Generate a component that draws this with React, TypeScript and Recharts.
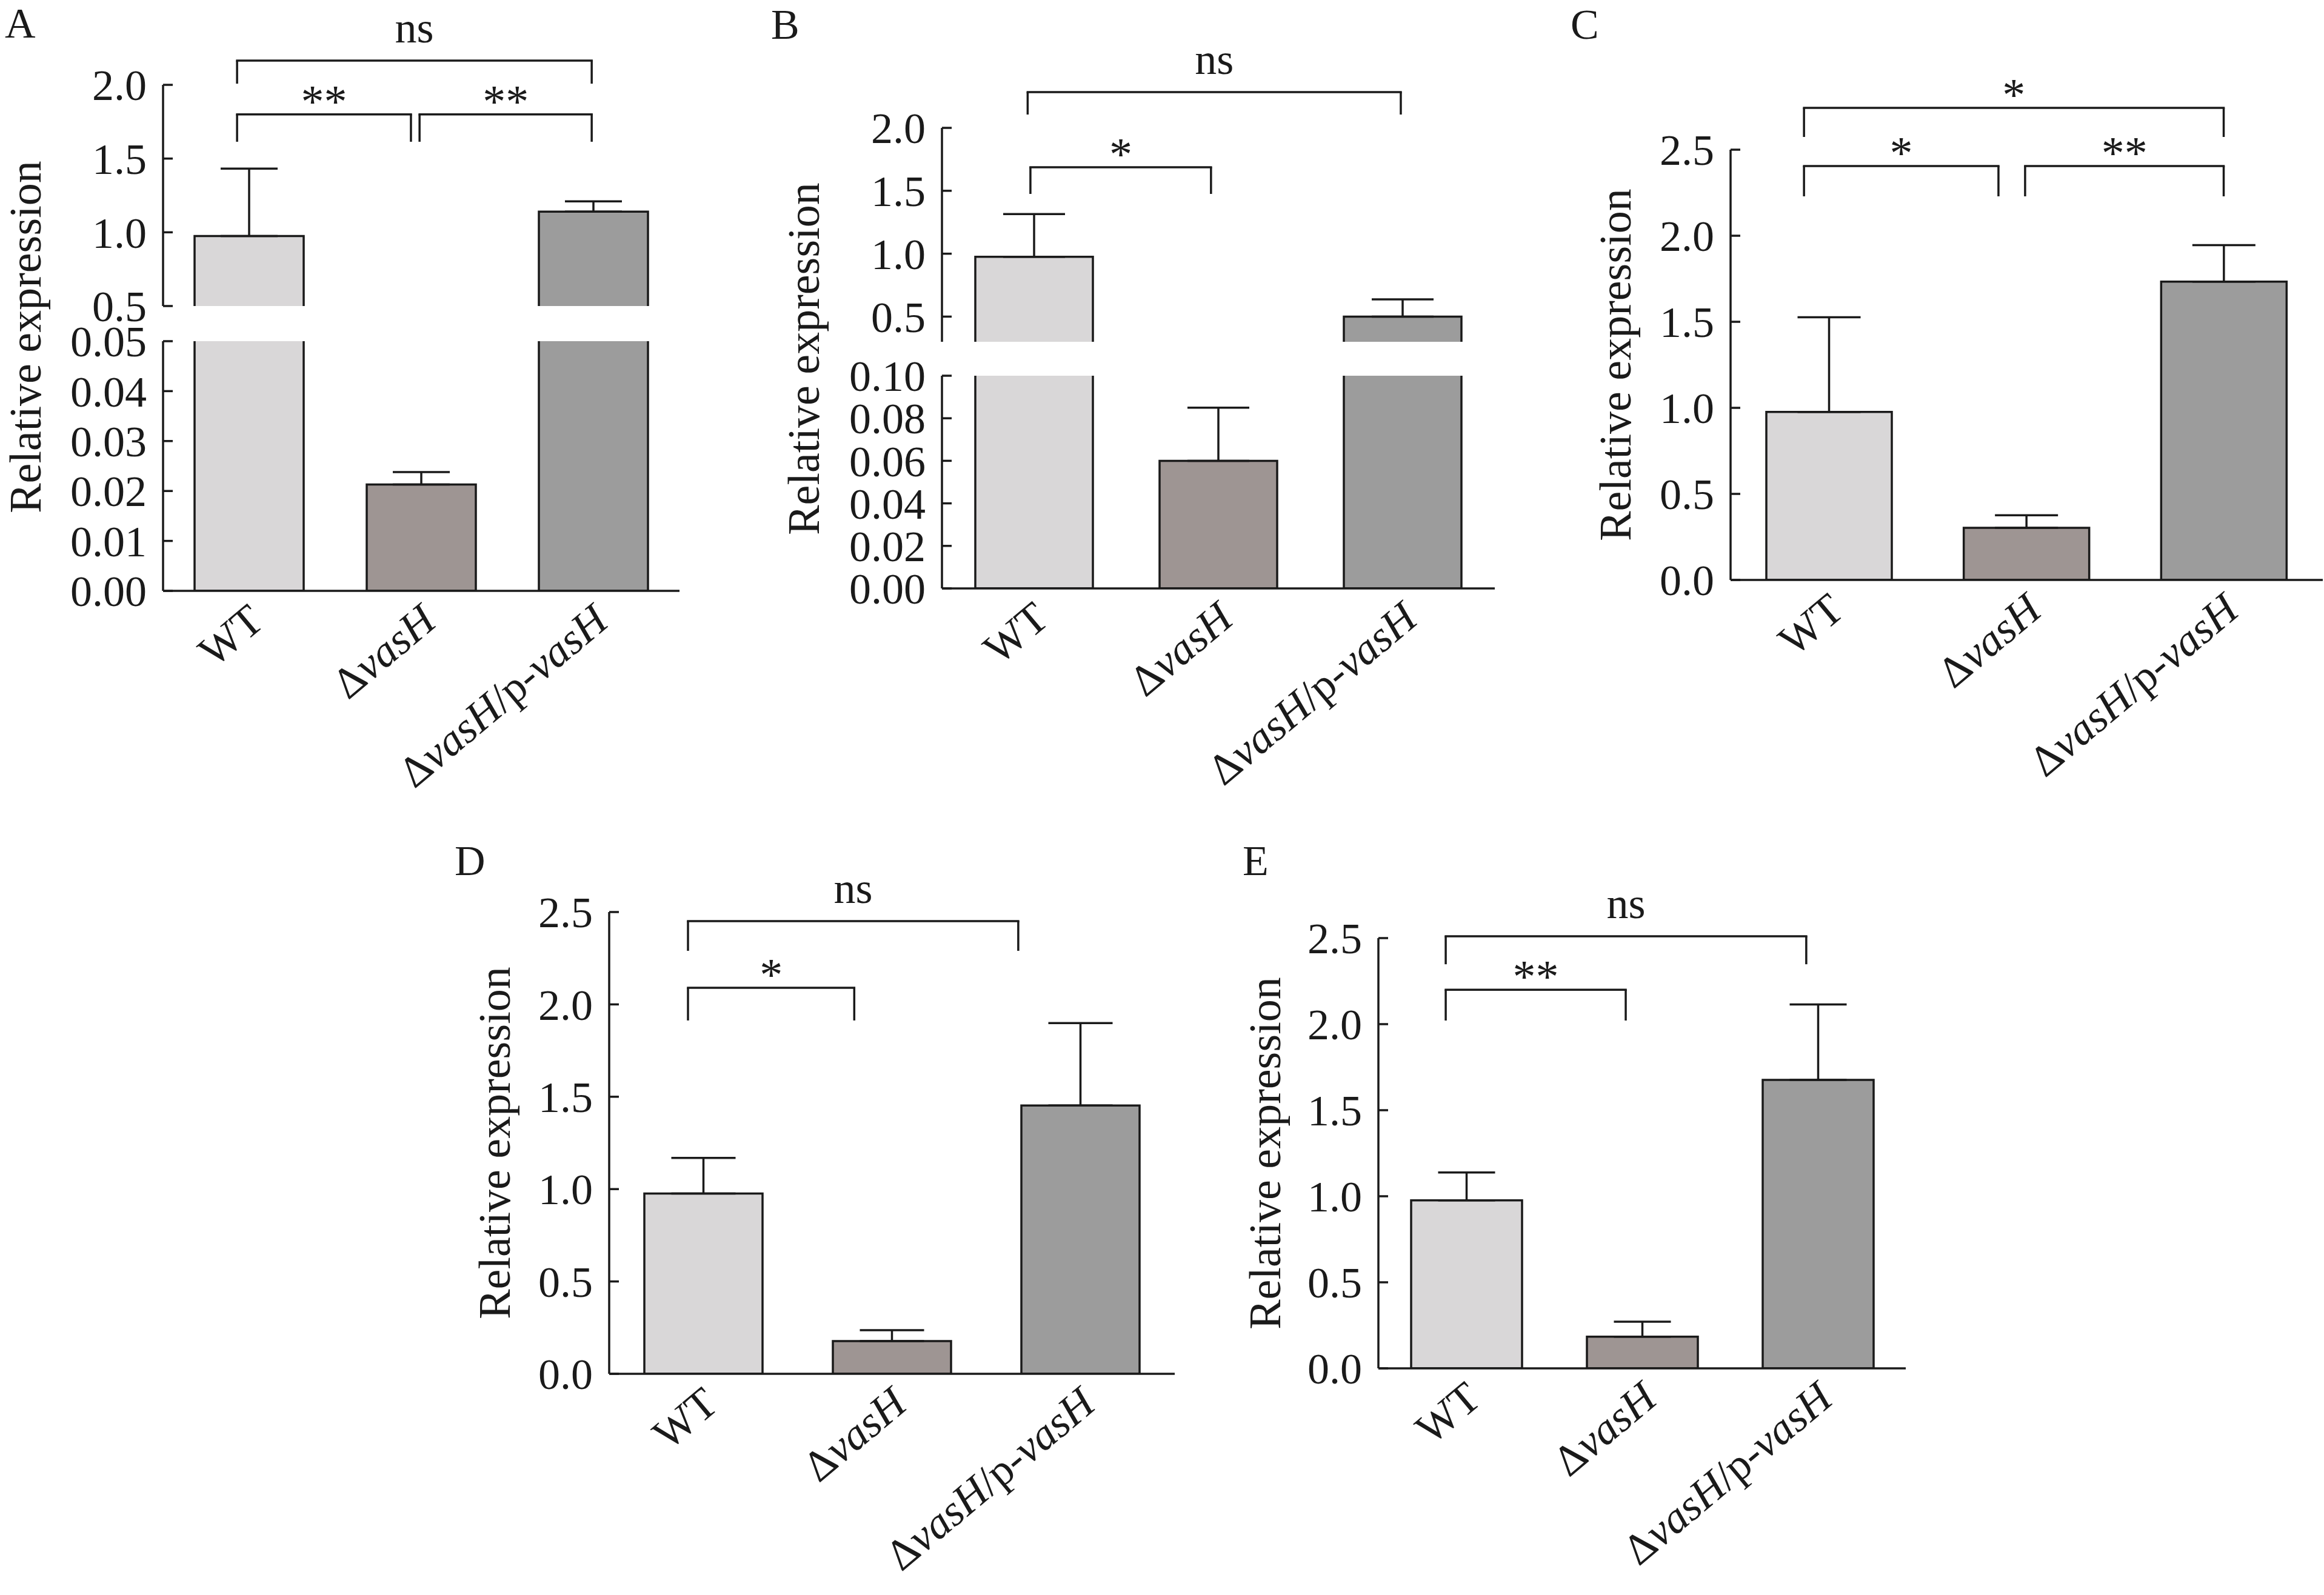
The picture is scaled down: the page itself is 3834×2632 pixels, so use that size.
import React from 'react';
import { BarChart, Bar, XAxis, YAxis, ErrorBar, Cell, ReferenceLine, ReferenceDot } from 'recharts';

const W = 3834;
const H = 2632;
const FONT = '"Liberation Serif", "Times New Roman", Times, serif';
const INK = '#1a1a1a';

// ---------- data ----------
const CATEGORIES = ['WT', 'ΔvasH', 'ΔvasH/p-vasH'];
const BAR_COLORS = ['#d9d7d8', '#9e9593', '#9c9c9c'];

const A_MEAN = [0.975, 0.0213, 1.14];
const A_SD = [0.457, 0.0025, 0.07];
const B_MEAN = [0.975, 0.06, 0.5];
const B_SD = [0.34, 0.025, 0.137];
const C_MEAN = [0.976, 0.303, 1.733];
const C_SD = [0.55, 0.073, 0.212];
const D_MEAN = [0.976, 0.177, 1.453];
const D_SD = [0.193, 0.059, 0.446];
const E_MEAN = [0.976, 0.184, 1.676];
const E_SD = [0.162, 0.087, 0.438];

const TICKS_A_UP = [0.5, 1.0, 1.5, 2.0];
const TICKS_A_LO = [0, 0.01, 0.02, 0.03, 0.04, 0.05];
const TICKS_B_UP = [0.5, 1.0, 1.5, 2.0];
const TICKS_B_LO = [0, 0.02, 0.04, 0.06, 0.08, 0.1];
const TICKS_FULL = [0, 0.5, 1.0, 1.5, 2.0, 2.5];

type Bracket = { from: number; to: number; y: number; drop: number; text: string };
// significance brackets, in data units (x: category index, y: value)
const BR_A: Bracket[] = [
  { from: -0.07, to: 1.99, y: 2.164, drop: 2.008, text: 'ns' },
  { from: -0.07, to: 0.94, y: 1.8, drop: 1.614, text: '**' },
  { from: 0.99, to: 1.99, y: 1.8, drop: 1.614, text: '**' },
];
const BR_B: Bracket[] = [
  { from: -0.035, to: 1.99, y: 2.284, drop: 2.106, text: 'ns' },
  { from: -0.02, to: 0.96, y: 1.687, drop: 1.475, text: '*' },
];
const BR_C: Bracket[] = [
  { from: -0.128, to: 1.998, y: 2.743, drop: 2.574, text: '*' },
  { from: -0.128, to: 0.857, y: 2.405, drop: 2.229, text: '*' },
  { from: 0.992, to: 1.998, y: 2.405, drop: 2.229, text: '**' },
];
const BR_D: Bracket[] = [
  { from: -0.082, to: 1.67, y: 2.451, drop: 2.29, text: 'ns' },
  { from: -0.082, to: 0.8, y: 2.09, drop: 1.913, text: '*' },
];
const BR_E: Bracket[] = [
  { from: -0.117, to: 1.934, y: 2.511, drop: 2.348, text: 'ns' },
  { from: -0.117, to: 0.907, y: 2.2, drop: 2.021, text: '**' },
];

// ---------- layout ----------
type Layout = { left: number; right: number; top: number; bottom: number; barSize: number; errW: number };
const YW = 120;
const XH = 320;
const SW = 3.5;
const TICK_FS = 72;
const TITLE_FS = 74;
const XL_DX = 28;
const XL_DY = 56;
const XL_ANGLE = -40;

const XTick = (props: any) => {
  const { x, y, payload } = props;
  const parts = String(payload.value).split(/(vasH)/).filter(Boolean);
  return (
    <g transform={`translate(${x + XL_DX},${y + XL_DY}) rotate(${XL_ANGLE})`}>
      <text textAnchor="end" fontFamily={FONT} fontSize={TICK_FS} fill={INK}>
        {parts.map((t, k) => (
          <tspan key={k} fontStyle={t === 'vasH' ? 'italic' : 'normal'}>
            {t}
          </tspan>
        ))}
      </text>
    </g>
  );
};

const makeYTick = (axisX: number, digits: number) => (props: any) => {
  const { y, payload } = props;
  return (
    <g key={`t-${payload.value}`}>
      <line x1={axisX} x2={axisX + 16} y1={y} y2={y} stroke={INK} strokeWidth={SW} />
      <text x={axisX - 27} y={y} dy="0.35em" textAnchor="end" fontFamily={FONT} fontSize={TICK_FS} fill={INK}>
        {Number(payload.value).toFixed(digits)}
      </text>
    </g>
  );
};

const makeShape = (plotTop: number, openBottom: boolean) => (props: any) => {
  const { x, y, width, height, payload } = props;
  if (!payload || payload.v == null || !(Math.abs(height) > 0)) return <g />;
  const y0 = Math.min(y, y + height);
  const y1 = Math.max(y, y + height);
  const top = Math.max(y0, plotTop);
  const clipped = y0 < plotTop - 0.5;
  const d = [`M${x},${y1} V${top}`, clipped ? `M${x + width},${top}` : `H${x + width}`, `V${y1}`];
  if (!openBottom) d.push(`H${x}`);
  return (
    <g>
      <rect x={x} y={top} width={width} height={y1 - top} fill={BAR_COLORS[payload.i]} />
      <path d={d.join(' ')} fill="none" stroke={INK} strokeWidth={SW} />
    </g>
  );
};

const makeBracketText = (text: string) => (props: any) => {
  const vb = props.viewBox || {};
  const cx = (vb.x ?? 0) + (vb.width ?? 0) / 2;
  const cy = (vb.y ?? 0) + (vb.height ?? 0) / 2;
  const star = text.indexOf('*') >= 0;
  return (
    <text
      x={cx}
      y={star ? cy + 4 : cy - 30}
      textAnchor="middle"
      fontFamily={FONT}
      fontSize={star ? 76 : TICK_FS}
      fill={INK}
    >
      {text}
    </text>
  );
};

type SegProps = {
  mean: number[];
  sd: number[];
  domain: [number, number];
  ticks: number[];
  digits: number;
  layout: Layout;
  brackets?: Bracket[];
  showX: boolean;
  openBottom: boolean;
};

function Segment({ mean, sd, domain, ticks, digits, layout, brackets, showX, openBottom }: SegProps) {
  const rows = CATEGORIES.map((name, i) => {
    const inSeg = mean[i] >= domain[0];
    return {
      name,
      i,
      v: inSeg ? mean[i] : null,
      err: inSeg && mean[i] <= domain[1] ? [0, sd[i]] : null,
    };
  });
  const margin = {
    top: layout.top,
    left: layout.left - YW,
    right: W - layout.right,
    bottom: H - layout.bottom - (showX ? XH : 0),
  };
  return (
    <div style={{ position: 'absolute', left: 0, top: 0 }}>
      <BarChart width={W} height={H} data={rows} margin={margin} barCategoryGap={0}>
        <XAxis
          dataKey="name"
          type="category"
          interval={0}
          hide={!showX}
          height={showX ? XH : 0}
          tickLine={false}
          tickSize={0}
          tickMargin={0}
          axisLine={{ stroke: INK, strokeWidth: SW }}
          tick={<XTick />}
        />
        <XAxis xAxisId="n" type="number" dataKey="i" domain={[-0.5, 2.5]} allowDataOverflow hide height={0} />
        <YAxis
          type="number"
          domain={domain}
          ticks={ticks}
          allowDataOverflow
          interval={0}
          width={YW}
          tickLine={false}
          tickSize={0}
          tickMargin={27}
          axisLine={{ stroke: INK, strokeWidth: SW }}
          tick={makeYTick(layout.left, digits)}
        />
        <Bar dataKey="v" barSize={layout.barSize} isAnimationActive={false} shape={makeShape(layout.top, openBottom)}>
          {rows.map((r) => (
            <Cell key={r.name} fill={BAR_COLORS[r.i]} />
          ))}
          <ErrorBar dataKey="err" width={layout.errW} stroke={INK} strokeWidth={SW} direction="y" />
        </Bar>
        {(brackets || []).map((b, k) => (
          <ReferenceLine
            key={`h${k}`}
            xAxisId="n"
            ifOverflow="visible"
            segment={[{ x: b.from, y: b.y }, { x: b.to, y: b.y }]}
            stroke={INK}
            strokeWidth={SW}
            strokeLinecap="square"
          />
        ))}
        {(brackets || []).map((b, k) => (
          <ReferenceLine
            key={`l${k}`}
            xAxisId="n"
            ifOverflow="visible"
            segment={[{ x: b.from, y: b.y }, { x: b.from, y: b.drop }]}
            stroke={INK}
            strokeWidth={SW}
          />
        ))}
        {(brackets || []).map((b, k) => (
          <ReferenceLine
            key={`r${k}`}
            xAxisId="n"
            ifOverflow="visible"
            segment={[{ x: b.to, y: b.y }, { x: b.to, y: b.drop }]}
            stroke={INK}
            strokeWidth={SW}
          />
        ))}
        {(brackets || []).map((b, k) => (
          <ReferenceDot
            key={`t${k}`}
            xAxisId="n"
            ifOverflow="visible"
            x={(b.from + b.to) / 2}
            y={b.y}
            r={0}
            fill="none"
            stroke="none"
            label={makeBracketText(b.text)}
          />
        ))}
      </BarChart>
    </div>
  );
}

const LAY_A_UP: Layout = { left: 269, right: 1121, top: 140, bottom: 505, barSize: 180, errW: 47 };
const LAY_A_LO: Layout = { left: 269, right: 1121, top: 563, bottom: 975, barSize: 180, errW: 47 };
const LAY_B_UP: Layout = { left: 1554, right: 2466, top: 211, bottom: 564, barSize: 194, errW: 51 };
const LAY_B_LO: Layout = { left: 1554, right: 2466, top: 620, bottom: 971, barSize: 194, errW: 51 };
const LAY_C: Layout = { left: 2855, right: 3832, top: 247, bottom: 957, barSize: 207, errW: 52 };
const LAY_D: Layout = { left: 1005, right: 1938, top: 1505, bottom: 2267, barSize: 195, errW: 53 };
const LAY_E: Layout = { left: 2274, right: 3144, top: 1548, bottom: 2258, barSize: 183, errW: 47 };

const LETTERS = [
  { t: 'A', x: 8, y: 62 },
  { t: 'B', x: 1272, y: 64 },
  { t: 'C', x: 2591, y: 64 },
  { t: 'D', x: 750, y: 1444 },
  { t: 'E', x: 2050, y: 1444 },
];
const TITLES = [
  { x: 67, y: 556 },
  { x: 1351, y: 592 },
  { x: 2690, y: 602 },
  { x: 841, y: 1886 },
  { x: 2112, y: 1903 },
];
const Y_TITLE = 'Relative expression';

export default function App() {
  return (
    <div style={{ position: 'absolute', left: 0, top: 0, width: W, height: H, background: '#fff', overflow: 'hidden' }}>
      <Segment mean={A_MEAN} sd={A_SD} domain={[0.5, 2.0]} ticks={TICKS_A_UP} digits={1} layout={LAY_A_UP} brackets={BR_A} showX={false} openBottom />
      <Segment mean={A_MEAN} sd={A_SD} domain={[0, 0.05]} ticks={TICKS_A_LO} digits={2} layout={LAY_A_LO} showX openBottom={false} />
      <Segment mean={B_MEAN} sd={B_SD} domain={[0.3, 2.0]} ticks={TICKS_B_UP} digits={1} layout={LAY_B_UP} brackets={BR_B} showX={false} openBottom />
      <Segment mean={B_MEAN} sd={B_SD} domain={[0, 0.1]} ticks={TICKS_B_LO} digits={2} layout={LAY_B_LO} showX openBottom={false} />
      <Segment mean={C_MEAN} sd={C_SD} domain={[0, 2.5]} ticks={TICKS_FULL} digits={1} layout={LAY_C} brackets={BR_C} showX openBottom={false} />
      <Segment mean={D_MEAN} sd={D_SD} domain={[0, 2.5]} ticks={TICKS_FULL} digits={1} layout={LAY_D} brackets={BR_D} showX openBottom={false} />
      <Segment mean={E_MEAN} sd={E_SD} domain={[0, 2.5]} ticks={TICKS_FULL} digits={1} layout={LAY_E} brackets={BR_E} showX openBottom={false} />
      <svg width={W} height={H} style={{ position: 'absolute', left: 0, top: 0, pointerEvents: 'none' }}>
        {LETTERS.map((l) => (
          <text key={l.t} x={l.x} y={l.y} fontFamily={FONT} fontSize={70} fill={INK}>
            {l.t}
          </text>
        ))}
        {TITLES.map((t, k) => (
          <text
            key={k}
            x={t.x}
            y={t.y}
            transform={`rotate(-90, ${t.x}, ${t.y})`}
            textAnchor="middle"
            fontFamily={FONT}
            fontSize={TITLE_FS}
            fill={INK}
          >
            {Y_TITLE}
          </text>
        ))}
      </svg>
    </div>
  );
}
